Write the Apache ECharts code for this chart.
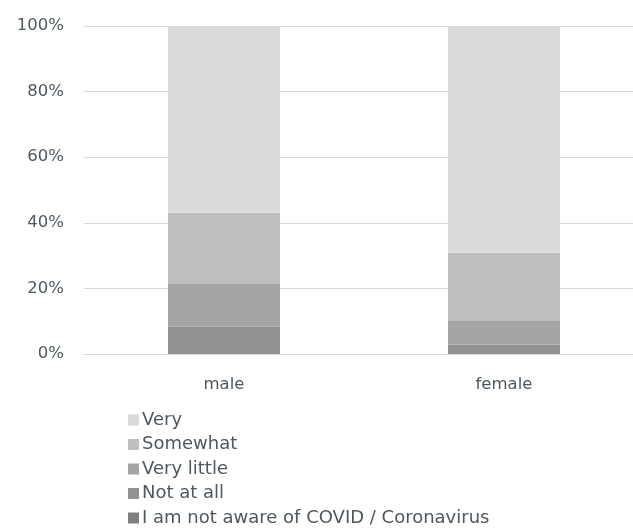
<!DOCTYPE html>
<html>
<head>
<meta charset="utf-8">
<script src="https://cdn.jsdelivr.net/npm/echarts@6/dist/echarts.min.js"></script>
<style>
  html, body { margin: 0; padding: 0; background: #fff; overflow: hidden; }
  #chart { width: 644px; height: 529px; }
</style>
</head>
<body>
<div id="chart"></div>
<script>
// Awareness of COVID / Coronavirus by gender, share of respondents (%)
const categories = ['male', 'female'];
const seriesNames = ['Very', 'Somewhat', 'Very little', 'Not at all', 'I am not aware of COVID / Coronavirus'];
const veryValues = [56.9, 69.1];
const somewhatValues = [21.5, 20.6];
const veryLittleValues = [13.3, 7.5];
const notAtAllValues = [8.3, 2.8];
const notAwareValues = [0, 0];
const yTicks = [0, 20, 40, 60, 80, 100];

const colors = {
  'Very': '#d9d9d9',
  'Somewhat': '#bfbfbf',
  'Very little': '#a5a5a5',
  'Not at all': '#929292',
  'I am not aware of COVID / Coronavirus': '#7f7f7f'
};

// stack from the bottom up
const stackOrder = [
  ['I am not aware of COVID / Coronavirus', notAwareValues],
  ['Not at all', notAtAllValues],
  ['Very little', veryLittleValues],
  ['Somewhat', somewhatValues],
  ['Very', veryValues]
];

const textColor = '#4d585f';
const fontFamily = '"DejaVu Sans", sans-serif';

const chart = echarts.init(document.getElementById('chart'), null, { renderer: 'canvas' });
chart.setOption({
  animation: false,
  textStyle: { fontFamily: fontFamily },
  grid: { left: 84, right: 0, top: 26, bottom: 175, containLabel: false },
  legend: {
    orient: 'vertical',
    left: 123,
    top: 405,
    height: 124,
    data: seriesNames,
    itemWidth: 11,
    itemHeight: 11,
    itemGap: 4.5,
    icon: 'rect',
    textStyle: {
      color: textColor, fontSize: 18, lineHeight: 20,
      fontFamily: fontFamily, padding: [0, 0, 0, -2]
    },
    selectedMode: false
  },
  xAxis: {
    type: 'category',
    data: categories,
    axisLine: { show: true, lineStyle: { color: '#d9d9d9', width: 1 } },
    axisTick: { show: false },
    axisLabel: { color: textColor, fontSize: 16.5, margin: 22, fontFamily: fontFamily }
  },
  yAxis: {
    type: 'value',
    min: yTicks[0],
    max: yTicks[yTicks.length - 1],
    interval: 20,
    axisLine: { show: false },
    axisTick: { show: false },
    splitLine: { lineStyle: { color: '#d9d9d9', width: 1 } },
    axisLabel: {
      color: textColor, fontSize: 16.5, margin: 20, fontFamily: fontFamily,
      formatter: v => v + '%'
    }
  },
  series: stackOrder.map(([name, values]) => ({
    name: name,
    type: 'bar',
    stack: 'total',
    data: values,
    barWidth: 112,
    itemStyle: { color: colors[name] }
  }))
});
</script>
</body>
</html>
